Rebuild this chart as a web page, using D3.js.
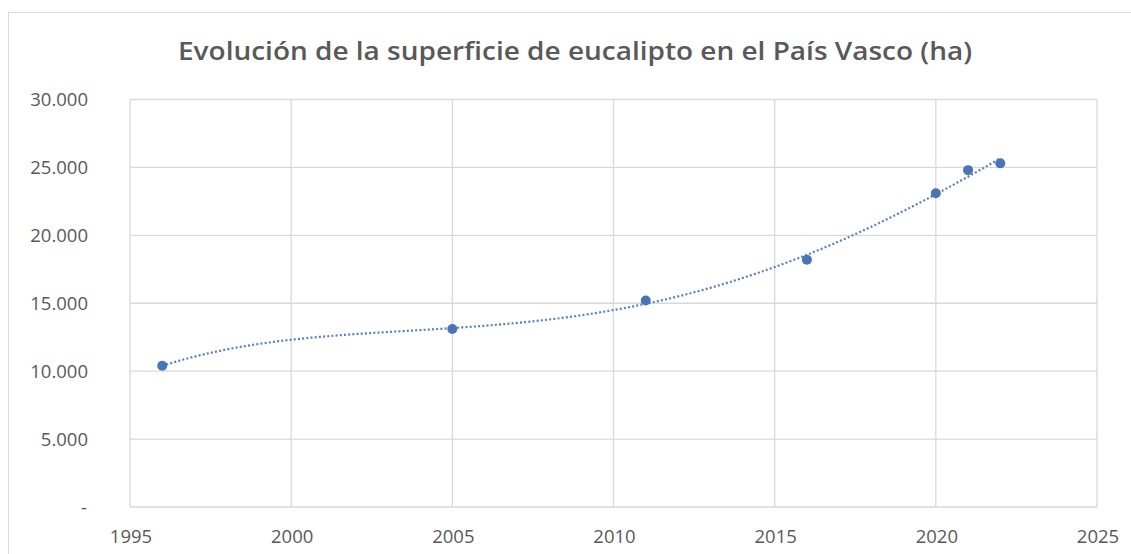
<!DOCTYPE html>
<html>
<head>
<meta charset="utf-8">
<script src="https://cdn.jsdelivr.net/npm/d3@7"></script>
<style>
  body { margin: 0; background: #fff; }
  text { font-family: "Open Sans", "Noto Sans", sans-serif; fill: #595959; }
</style>
</head>
<body>
<svg width="1131" height="554"></svg>
<script>
// data
var years = [1996, 2005, 2011, 2016, 2020, 2021, 2022];
var hectares = [10400, 13100, 15200, 18200, 23100, 24800, 25300];
var xTicks = [1995, 2000, 2005, 2010, 2015, 2020, 2025];
var yTicks = [0, 5000, 10000, 15000, 20000, 25000, 30000];
var title = "Evolución de la superficie de eucalipto en el País Vasco (ha)";
var trendOrder = 4; // polynomial trendline, as in the spreadsheet

var svg = d3.select("svg");
// plot box (note: "top" clashes with window.top, so use other names)
var plotL = 130, plotR = 1097, plotT = 99.5, plotB = 507;

var x = d3.scaleLinear().domain([1995, 2025]).range([plotL, plotR]);
var y = d3.scaleLinear().domain([0, 30000]).range([plotB, plotT]);

// least squares polynomial fit (normal equations, gaussian elimination)
function polyFit(xs, ys, order) {
    var x0 = d3.mean(xs);
    var n = order + 1;
    var A = [], b = [];
    for (var i = 0; i < n; i++) {
        A.push(new Array(n).fill(0));
        b.push(0);
    }
    xs.forEach((xv, k) => {
        var t = xv - x0;
        for (var i = 0; i < n; i++) {
            for (var j = 0; j < n; j++) A[i][j] += Math.pow(t, i + j);
            b[i] += ys[k] * Math.pow(t, i);
        }
    });
    for (var c = 0; c < n; c++) {
        var p = c;
        for (var r = c + 1; r < n; r++) if (Math.abs(A[r][c]) > Math.abs(A[p][c])) p = r;
        [A[c], A[p]] = [A[p], A[c]];
        [b[c], b[p]] = [b[p], b[c]];
        for (var r = c + 1; r < n; r++) {
            var f = A[r][c] / A[c][c];
            for (var j = c; j < n; j++) A[r][j] -= f * A[c][j];
            b[r] -= f * b[c];
        }
    }
    var coef = new Array(n).fill(0);
    for (var i = n - 1; i >= 0; i--) {
        var s = b[i];
        for (var j = i + 1; j < n; j++) s -= A[i][j] * coef[j];
        coef[i] = s / A[i][i];
    }
    return function(xv) {
        var t = xv - x0, s = 0;
        for (var i = 0; i < n; i++) s += coef[i] * Math.pow(t, i);
        return s;
    };
}

// chart area border (runs off bottom/right of the picture)
svg.append("rect")
    .attr("x", 8.5).attr("y", 12.5)
    .attr("width", 1140).attr("height", 560)
    .attr("fill", "none")
    .attr("stroke", "#d9d9d9")
    .attr("stroke-width", 1);

svg.append("text")
    .attr("x", 575).attr("y", 60)
    .attr("text-anchor", "middle")
    .attr("font-size", 26)
    .attr("font-weight", 600)
    .attr("textLength", 794)
    .attr("lengthAdjust", "spacingAndGlyphs")
    .text(title);

// grid
svg.append("g").selectAll("line").data(yTicks).join("line")
    .attr("x1", plotL).attr("x2", plotR)
    .attr("y1", d => y(d)).attr("y2", d => y(d))
    .attr("stroke", "#d9d9d9").attr("stroke-width", 1.3);
svg.append("g").selectAll("line").data(xTicks).join("line")
    .attr("x1", d => x(d)).attr("x2", d => x(d))
    .attr("y1", plotT).attr("y2", plotB)
    .attr("stroke", "#d9d9d9").attr("stroke-width", 1.3);

// axis labels
var fmt = function(d) {
    if (d == 0) return "-";
    return d3.format(",")(d).replace(/,/g, ".");
};
svg.append("g").selectAll("text").data(yTicks).join("text")
    .attr("x", d => d == 0 ? 84 : 88)
    .attr("y", d => y(d) + 6.5)
    .attr("text-anchor", d => d == 0 ? "middle" : "end")
    .attr("font-size", 18.5)
    .text(fmt);
svg.append("g").selectAll("text").data(xTicks).join("text")
    .attr("x", d => x(d) + 1)
    .attr("y", 543)
    .attr("text-anchor", "middle")
    .attr("font-size", 18.5)
    .text(d => d);

// dotted trendline + markers
var pts = years.map((yr, i) => ({x: yr, y: hectares[i]}));
var trend = polyFit(years, hectares, trendOrder);
var trendPts = d3.range(years[0], years[years.length - 1] + 0.001, 0.25)
    .map(yr => ({x: yr, y: trend(yr)}));
var lineFn = d3.line()
    .x(d => x(d.x))
    .y(d => y(d.y))
    .curve(d3.curveBasis);

svg.append("path")
    .attr("d", lineFn(trendPts))
    .attr("fill", "none")
    .attr("stroke", "#5b7fbc")
    .attr("stroke-width", 2.2)
    .attr("stroke-dasharray", "2 2.2");

svg.append("g").selectAll("circle").data(pts).join("circle")
    .attr("cx", d => x(d.x))
    .attr("cy", d => y(d.y))
    .attr("r", 5)
    .attr("fill", "#4a75b5");
</script>
</body>
</html>
